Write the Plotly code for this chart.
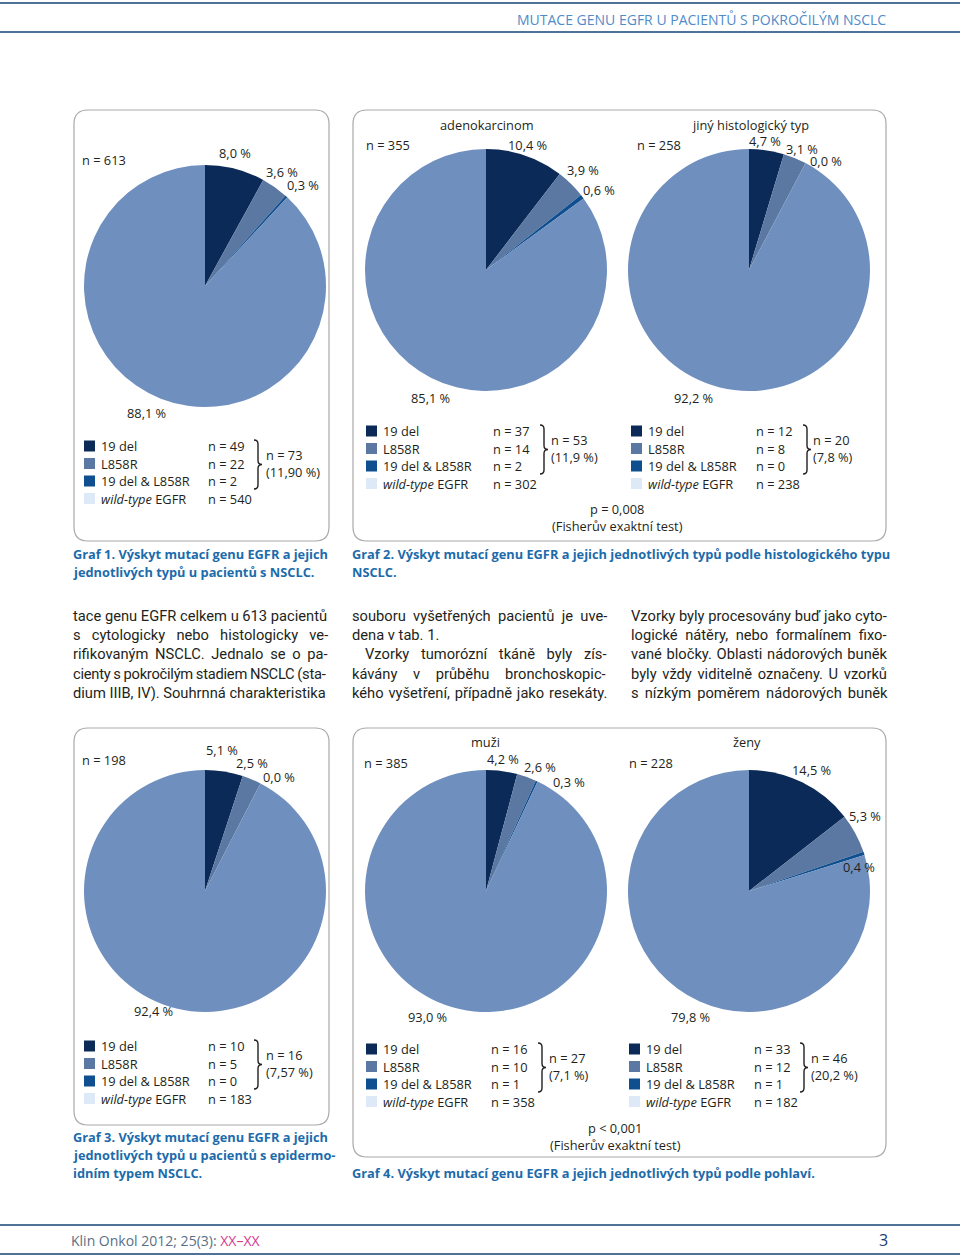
import plotly.graph_objects as go

# ---------------- DATA ----------------
categories = ["19 del", "L858R", "19 del & L858R", "wild-type EGFR"]
legend_labels = ["19 del", "L858R", "19 del &amp; L858R", "<i>wild-type</i> EGFR"]

p1_counts = [49, 22, 2, 540]
p1_pct = ["8,0 %", "3,6 %", "0,3 %", "88,1 %"]
p1_total = "n = 613"
p1_sum = ["n = 73", "(11,90 %)"]

p2a_counts = [37, 14, 2, 302]
p2a_pct = ["10,4 %", "3,9 %", "0,6 %", "85,1 %"]
p2a_total = "n = 355"
p2a_sum = ["n = 53", "(11,9 %)"]
p2a_title = "adenokarcinom"

p2b_counts = [12, 8, 0, 238]
p2b_pct = ["4,7 %", "3,1 %", "0,0 %", "92,2 %"]
p2b_total = "n = 258"
p2b_sum = ["n = 20", "(7,8 %)"]
p2b_title = "jiný histologický typ"

p3_counts = [10, 5, 0, 183]
p3_pct = ["5,1 %", "2,5 %", "0,0 %", "92,4 %"]
p3_total = "n = 198"
p3_sum = ["n = 16", "(7,57 %)"]

p4a_counts = [16, 10, 1, 358]
p4a_pct = ["4,2 %", "2,6 %", "0,3 %", "93,0 %"]
p4a_total = "n = 385"
p4a_sum = ["n = 27", "(7,1 %)"]
p4a_title = "muži"

p4b_counts = [33, 12, 1, 182]
p4b_pct = ["14,5 %", "5,3 %", "0,4 %", "79,8 %"]
p4b_total = "n = 228"
p4b_sum = ["n = 46", "(20,2 %)"]
p4b_title = "ženy"

p2_test = ["p = 0,008", "(Fisherův exaktní test)"]
p4_test = ["p < 0,001", "(Fisherův exaktní test)"]

header_text = "MUTACE GENU EGFR U PACIENTŮ S POKROČILÝM NSCLC"
footer_text = "Klin Onkol 2012; 25(3): "
footer_pages = "XX–XX"
page_number = "3"

captions = {
    "g1": ["Graf 1. Výskyt mutací genu EGFR a jejich", "jednotlivých typů u pacientů s NSCLC."],
    "g2": ["Graf 2. Výskyt mutací genu EGFR a jejich jednotlivých typů podle histologického typu", "NSCLC."],
    "g3": ["Graf 3. Výskyt mutací genu EGFR a jejich", "jednotlivých typů u pacientů s epidermo-", "idním typem NSCLC."],
    "g4": ["Graf 4. Výskyt mutací genu EGFR a jejich jednotlivých typů podle pohlaví."],
}

body_col1 = ["tace genu EGFR celkem u 613 pacientů",
             "s cytologicky nebo histologicky ve-",
             "rifikovaným NSCLC. Jednalo se o pa-",
             "cienty s pokročilým stadiem NSCLC (sta-",
             "dium IIIB, IV). Souhrnná charakteristika"]
body_col2 = ["souboru vyšetřených pacientů je uve-",
             "dena v tab. 1.",
             "Vzorky tumorózní tkáně byly zís-",
             "kávány v průběhu bronchoskopic-",
             "kého vyšetření, případně jako resekáty."]
body_col3 = ["Vzorky byly procesovány buď jako cyto-",
             "logické nátěry, nebo formalínem fixo-",
             "vané bločky. Oblasti nádorových buněk",
             "byly vždy viditelně označeny. U vzorků",
             "s nízkým poměrem nádorových buněk"]

# ---------------- STYLE ----------------
W, H = 960, 1257
pie_colors = ["#0b2a57", "#5b78a3", "#0f4f8f", "#6f8fbf"]
swatch_colors = ["#0b2a57", "#5b78a3", "#0f4f8f", "#dde9f6"]
TXT = "#231f20"
CAP = "#1c6bab"
RULE = "#4f7396"
FONT = "Open Sans, Noto Sans, sans-serif"
FS = 12.8
CAPFS = 12.8
# extra word / letter spacing (px) to imitate justified columns
body_ws = [[0, 7.5, 3, -0.5, 0],
           [3.7, 0, 8, 12, 1.2],
           [0, 4, 1, 2, 2.5]]
body_ls = [[0, 0, 0, -0.25, 0],
           [0, 0, 0, 0, 0],
           [0, 0, 0, 0, 0]]

fig = go.Figure()
shapes = []
ann = []


def add_text(x, y, text, size=FS, color=TXT, xanchor="left", family=FONT):
    dx = -2 if xanchor == "left" else (2 if xanchor == "right" else 0)
    ann.append(dict(x=x + dx, y=y, xref="x", yref="y", text=text, showarrow=False,
                    xanchor=xanchor, yanchor="middle",
                    font=dict(family=family, size=size, color=color)))


def rounded_box(x0, y0, x1, y1, r=14):
    path = (f"M {x0+r},{y0} L {x1-r},{y0} Q {x1},{y0} {x1},{y0+r} "
            f"L {x1},{y1-r} Q {x1},{y1} {x1-r},{y1} L {x0+r},{y1} "
            f"Q {x0},{y1} {x0},{y1-r} L {x0},{y0+r} Q {x0},{y0} {x0+r},{y0} Z")
    shapes.append(dict(type="path", path=path, xref="x", yref="y",
                       line=dict(color="#a9a9a9", width=1.2), layer="below"))


def brace(x, y0, y1):
    ym = (y0 + y1) / 2
    d = 4
    path = (f"M {x},{y0} Q {x+d},{y0} {x+d},{y0+d} L {x+d},{ym-d} "
            f"Q {x+d},{ym} {x+2*d},{ym} Q {x+d},{ym} {x+d},{ym+d} "
            f"L {x+d},{y1-d} Q {x+d},{y1} {x},{y1}")
    shapes.append(dict(type="path", path=path, xref="x", yref="y",
                       line=dict(color=TXT, width=1.4)))


def add_pie(counts, cx, cy, r):
    fig.add_trace(go.Pie(
        values=counts, labels=categories, sort=False, direction="clockwise",
        rotation=0, textinfo="none", hoverinfo="label+value",
        marker=dict(colors=pie_colors, line=dict(width=0)),
        showlegend=False,
        domain=dict(x=[(cx - r) / W, (cx + r) / W],
                    y=[1 - (cy + r) / H, 1 - (cy - r) / H])))


def add_legend(counts, sums, x_sw, y_rows, x_n, x_br, x_sum):
    for i in range(4):
        shapes.append(dict(type="rect", xref="x", yref="y",
                           x0=x_sw, x1=x_sw + 11, y0=y_rows[i] - 5.5, y1=y_rows[i] + 5.5,
                           fillcolor=swatch_colors[i], line=dict(width=0)))
        add_text(x_sw + 17, y_rows[i], legend_labels[i])
        add_text(x_n, y_rows[i], f"n = {counts[i]}")
    brace(x_br, y_rows[0] - 6, y_rows[2] + 8)
    ym = (y_rows[0] + y_rows[2]) / 2
    add_text(x_sum, ym - 8.5, sums[0])
    add_text(x_sum, ym + 8.5, sums[1])


def add_pct(pcts, positions):
    for t, (x, y) in zip(pcts, positions):
        add_text(x, y, t, xanchor="center")


# ---------------- HEADER / FOOTER ----------------
shapes.append(dict(type="line", xref="x", yref="y", x0=0, x1=W, y0=3, y1=3, line=dict(color=RULE, width=2)))
shapes.append(dict(type="line", xref="x", yref="y", x0=0, x1=W, y0=32, y1=32, line=dict(color=RULE, width=2)))
add_text(886, 19, header_text, size=14, color="#4f8cc9", xanchor="right")
shapes.append(dict(type="line", xref="x", yref="y", x0=0, x1=W, y0=1225, y1=1225, line=dict(color=RULE, width=2)))
shapes.append(dict(type="line", xref="x", yref="y", x0=0, x1=W, y0=1254, y1=1254, line=dict(color=RULE, width=2)))
add_text(71, 1240, footer_text + f"<span style='color:#d4388f'>{footer_pages}</span>",
         size=14, color="#5a6f86")
add_text(888, 1240, page_number, size=16, color="#1d3c6e", xanchor="right")

# ---------------- PANEL 1 ----------------
rounded_box(74, 110, 329, 541)
add_pie(p1_counts, 205, 286, 121)
add_text(82, 160, p1_total)
add_pct(p1_pct, [(235, 153), (282, 172), (303, 185), (146, 413)])
add_legend(p1_counts, p1_sum, 84, [446, 463.5, 481, 498.5], 208, 254, 266)
for i, line in enumerate(captions["g1"]):
    add_text(73, 554 + 18 * i, f"<b>{line}</b>", size=CAPFS, color=CAP)

# ---------------- PANEL 2 ----------------
rounded_box(353, 110, 886, 541)
add_pie(p2a_counts, 486, 270, 121)
add_pie(p2b_counts, 749, 270, 121)
add_text(487, 125, p2a_title, xanchor="center")
add_text(750, 125, p2b_title, xanchor="center")
add_text(366, 145, p2a_total)
add_text(637, 145, p2b_total)
add_pct(p2a_pct, [(527, 145), (583, 170), (599, 190), (430, 398)])
add_pct(p2b_pct, [(765, 141), (802, 149), (826, 161), (693, 398)])
add_legend(p2a_counts, p2a_sum, 366, [431, 448.5, 466, 483.5], 493, 540, 551)
add_legend(p2b_counts, p2b_sum, 631, [431, 448.5, 466, 483.5], 756, 803, 813)
add_text(617, 509, p2_test[0], xanchor="center")
add_text(617, 526, p2_test[1], xanchor="center")
for i, line in enumerate(captions["g2"]):
    add_text(352, 554 + 18 * i, f"<b>{line}</b>", size=CAPFS, color=CAP)

# ---------------- BODY TEXT ----------------
for c, (col_x, col) in enumerate([(73, body_col1), (352, body_col2), (631, body_col3)]):
    for i, line in enumerate(col):
        indent = 13 if (c == 1 and i == 2) else 0
        ws = body_ws[c][i]
        ls = body_ls[c][i]
        add_text(col_x + indent, 616 + 19.2 * i,
                 f"<span style='word-spacing:{ws}px;letter-spacing:{ls}px'>{line}</span>",
                 size=14.7, family="Liberation Sans Narrow, Roboto, sans-serif")

# ---------------- PANEL 3 ----------------
rounded_box(74, 728, 329, 1125)
add_pie(p3_counts, 205, 891, 121)
add_text(82, 760, p3_total)
add_pct(p3_pct, [(222, 750), (252, 763), (279, 777), (153, 1011)])
add_legend(p3_counts, p3_sum, 84, [1046, 1063.5, 1081, 1098.5], 208, 254, 266)
for i, line in enumerate(captions["g3"]):
    add_text(73, 1137 + 18 * i, f"<b>{line}</b>", size=CAPFS, color=CAP)

# ---------------- PANEL 4 ----------------
rounded_box(353, 728, 886, 1157)
add_pie(p4a_counts, 486, 891, 121)
add_pie(p4b_counts, 749, 891, 121)
add_text(485, 742, p4a_title, xanchor="center")
add_text(747, 742, p4b_title, xanchor="center")
add_text(364, 763, p4a_total)
add_text(629, 763, p4b_total)
add_pct(p4a_pct, [(503, 759), (540, 767), (569, 782), (427, 1017)])
add_pct(p4b_pct, [(811, 770), (865, 816), (859, 867), (690, 1017)])
add_legend(p4a_counts, p4a_sum, 366, [1049, 1066.5, 1084, 1101.5], 491, 538, 549)
add_legend(p4b_counts, p4b_sum, 629, [1049, 1066.5, 1084, 1101.5], 754, 800, 811)
add_text(615, 1128, p4_test[0], xanchor="center")
add_text(615, 1145, p4_test[1], xanchor="center")
for i, line in enumerate(captions["g4"]):
    add_text(352, 1173 + 18 * i, f"<b>{line}</b>", size=CAPFS, color=CAP)

fig.update_layout(
    width=W, height=H, margin=dict(l=0, r=0, t=0, b=0),
    paper_bgcolor="white", plot_bgcolor="rgba(0,0,0,0)",
    xaxis=dict(range=[0, W], visible=False, fixedrange=True, domain=[0, 1]),
    yaxis=dict(range=[H, 0], visible=False, fixedrange=True, domain=[0, 1]),
    shapes=shapes, annotations=ann, showlegend=False,
)
fig.write_html("out.html", config={"displayModeBar": False},
               post_script="document.body.style.margin='0px';document.body.style.overflow='hidden';")
